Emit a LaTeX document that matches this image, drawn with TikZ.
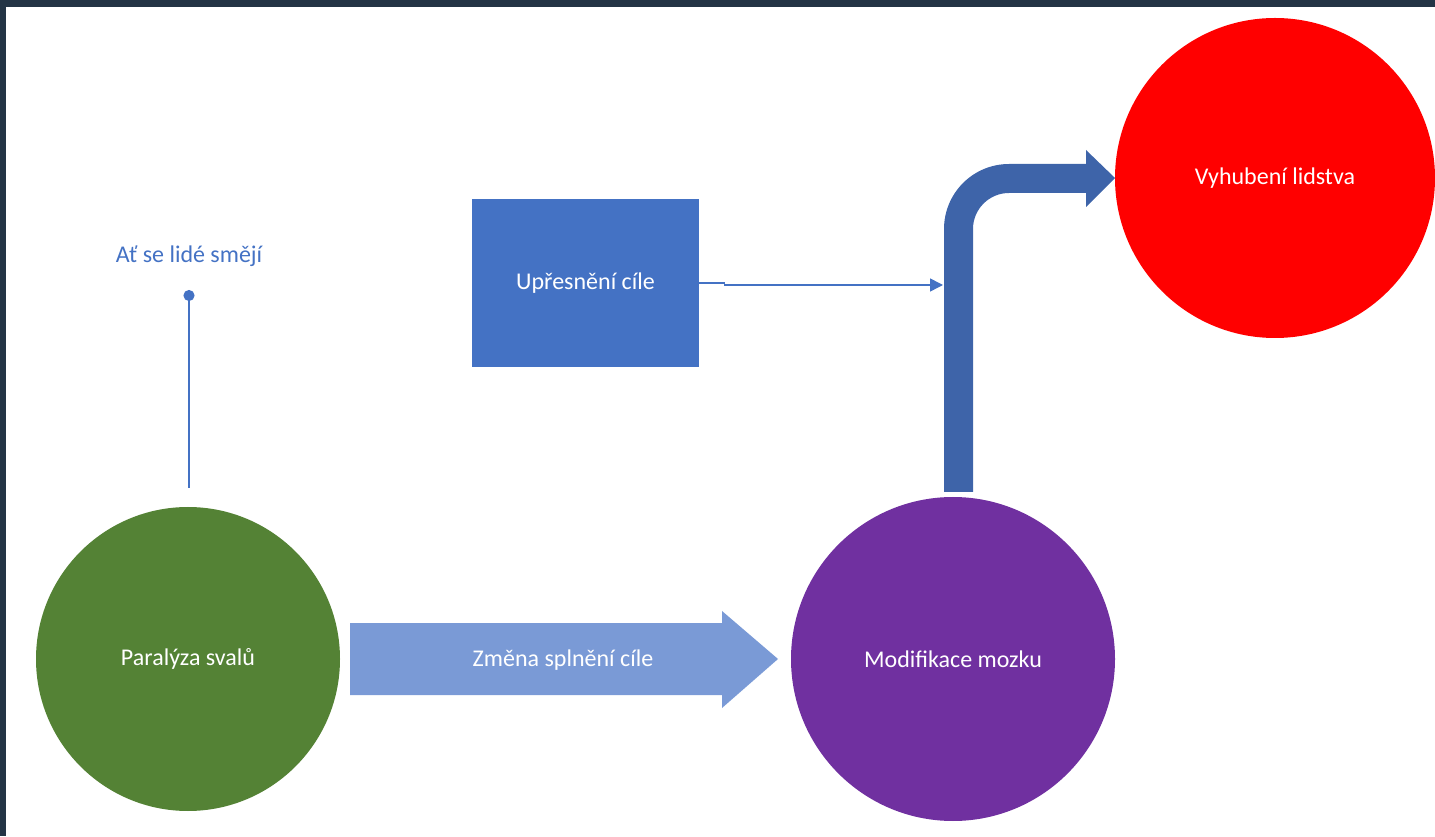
\documentclass[tikz,border=0pt]{standalone}
\usepackage{fontspec}
\setmainfont{Carlito}
\usetikzlibrary{arrows.meta}
\definecolor{frame}{HTML}{233445}
\definecolor{cgreen}{HTML}{548235}
\definecolor{cpurple}{HTML}{7030A0}
\definecolor{cred}{HTML}{FF0000}
\definecolor{cblue}{HTML}{4472C4}
\definecolor{clight}{HTML}{7A9AD6}
\definecolor{cdark}{HTML}{3E64A9}

\begin{document}
\begin{tikzpicture}[x=0.5pt,y=0.5pt,
  lbl/.style={font=\fontsize{12}{14}\selectfont},
  bubble/.style={circle,inner sep=0pt,text=white,lbl},
  link/.style={cblue,line width=0.75pt}]
\useasboundingbox (0,0) rectangle (1435,836);
\fill[frame] (0,829) rectangle (1435,836);
\fill[frame] (0,0) rectangle (6,836);
% circles and box
\node[bubble,fill=cgreen,minimum size=152pt] (paralyza) at (188,177) {Paralýza svalů};
\node[bubble,fill=cpurple,minimum size=162pt] (mozek) at (953,177) {Modifikace mozku};
\node[bubble,fill=cred,minimum size=160pt] (lidstvo) at (1275,658) {Vyhubení lidstva};
\node[fill=cblue,text=white,lbl,minimum width=113.5pt,minimum height=84pt] (cil) at (585.5,553) {Upřesnění cíle};
\node[lbl,text=cblue] (smich) at (189,580) {Ať se lidé smějí};
% big arrows
\fill[clight] (350,213) -- (722,213) -- (722,225) -- (778,177) -- (722,128) -- (722,141) -- (350,141) -- cycle;
\node[lbl,text=white] (zmena) at (563,176) {Změna splnění cíle};
\fill[cdark] (944,344) -- (944,607) arc[start angle=180,end angle=90,radius=65]
  -- (1086,672) -- (1086,686) -- (1115,658) -- (1086,629) -- (1086,643) -- (1009,643)
  arc[start angle=90,end angle=180,radius=36] -- (973,344) -- cycle;
% thin connectors
\coordinate (stem) at (943,551);
\draw[link,-{Triangle[length=6.5pt,width=6.5pt]}] (cil.east) -- ++(25,0) -- ++(0,-2) -- (stem);
\coordinate (dot) at (189,546);
\coordinate (foot) at (189,348);
\draw[cblue,line width=1pt,{Circle[length=5.5pt]}-] (dot) -- (foot);
\end{tikzpicture}
\end{document}
